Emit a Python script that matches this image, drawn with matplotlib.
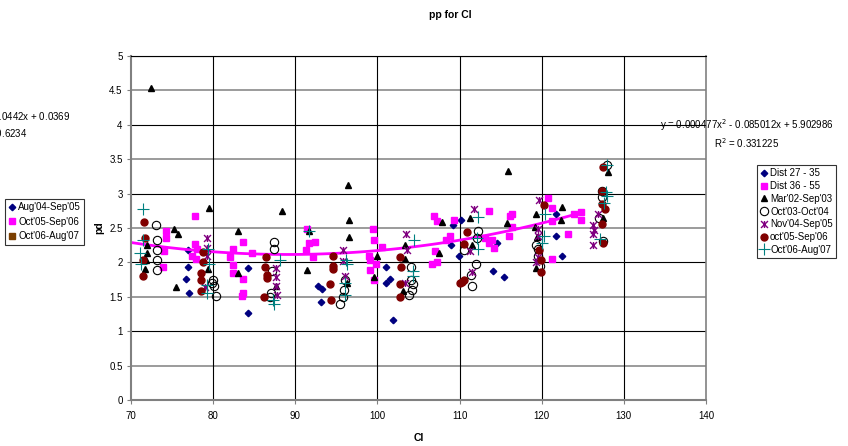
import numpy as np
import matplotlib
matplotlib.use('Agg')
import matplotlib.pyplot as plt
from matplotlib.path import Path
from matplotlib.lines import Line2D
from matplotlib.ticker import FuncFormatter

plt.rcParams['font.family'] = ['Liberation Sans', 'DejaVu Sans']

# data (Cl, pd)
dist27_x = [76.9, 76.7, 77.1, 77.0, 84.3, 84.3, 92.8, 93.3, 93.1, 101.0, 101.5, 101.0, 101.9,
            110.2, 109.2, 109.0, 109.9, 114.6, 114.1, 115.4, 121.7, 121.7, 122.5]
dist27_y = [1.94, 1.76, 1.55, 2.18, 1.92, 1.26, 1.65, 1.62, 1.43, 1.94, 1.76, 1.70, 1.17,
            2.62, 2.54, 2.26, 2.09, 2.28, 1.88, 1.79, 2.39, 2.70, 2.09]

dist36_x = [77.8, 74.3, 74.3, 77.8, 78.0, 74.0, 77.4, 77.9, 73.9, 82.0, 82.4, 83.6, 82.4, 82.4,
            83.6, 83.6, 83.5, 84.7, 91.4, 91.7, 92.4, 91.3, 92.1, 99.5, 99.6, 100.5, 99.0, 99.1,
            99.8, 99.1, 99.6, 106.9, 107.2, 109.3, 108.8, 108.4, 107.0, 106.6, 107.3, 113.6,
            116.4, 116.2, 116.4, 113.1, 114.0, 113.6, 114.2, 116.0, 120.8, 121.2, 121.3, 121.3,
            123.2, 123.9, 124.8, 124.8]
dist36_y = [2.67, 2.45, 2.36, 2.27, 2.20, 2.16, 2.10, 2.05, 1.94, 2.08, 2.20, 2.29, 1.96, 1.85,
            1.76, 1.55, 1.51, 2.13, 2.49, 2.28, 2.30, 2.18, 2.08, 2.49, 2.32, 2.23, 2.10, 2.03,
            1.98, 1.89, 1.74, 2.67, 2.60, 2.61, 2.38, 2.33, 2.17, 1.97, 2.00, 2.74,
            2.71, 2.67, 2.52, 2.36, 2.33, 2.28, 2.21, 2.38, 2.94, 2.79, 2.60, 2.05,
            2.41, 2.70, 2.73, 2.62]

mar02_x = [72.4, 71.9, 71.9, 71.8, 71.7, 75.2, 75.7, 75.5, 79.5, 79.4, 83.0, 83.0, 88.4, 87.6,
           91.7, 91.4, 96.4, 96.6, 96.5, 96.3, 100.0, 99.6, 103.4, 103.3, 103.1, 107.9, 111.3,
           115.9, 115.8, 107.5, 111.5, 119.3, 122.5, 122.4, 119.2, 119.3, 119.4, 128.1, 127.5]
mar02_y = [4.54, 2.25, 2.13, 2.03, 1.91, 2.48, 2.41, 1.64, 2.79, 1.91, 2.45, 1.84, 2.75, 1.65,
           2.45, 1.89, 3.12, 2.62, 2.37, 1.70, 2.09, 1.79, 2.26, 2.05, 1.59, 2.58, 2.65,
           3.33, 2.57, 2.13, 2.25, 2.70, 2.80, 2.62, 2.51, 1.92, 2.37, 3.32, 2.65]

oct03_x = [73.0, 73.2, 73.2, 73.2, 73.2, 80.0, 80.1, 80.4, 79.9, 87.4, 87.4, 87.2, 87.0, 86.9,
           96.0, 95.9, 95.8, 95.5, 104.1, 104.1, 104.3, 104.2, 103.9, 112.2, 112.1, 110.6,
           112.0, 111.4, 111.5, 119.3, 119.5, 119.6, 119.8, 128.0, 127.3, 127.3, 127.0, 127.4]
oct03_y = [2.55, 2.32, 2.18, 2.03, 1.89, 1.74, 1.65, 1.51, 1.70, 2.30, 2.20, 1.88, 1.55, 1.50,
           1.74, 1.60, 1.50, 1.39, 1.93, 1.74, 1.68, 1.60, 1.53, 2.46, 2.36, 2.18,
           1.97, 1.81, 1.65, 2.25, 2.19, 2.10, 1.95, 3.41, 3.04, 2.95, 2.65, 2.31]

nov04_x = [79.2, 79.2, 79.2, 79.0, 103.5, 103.6, 87.7, 87.7, 87.7, 87.8, 95.8, 95.8, 96.0, 103.3,
           111.7, 111.3, 111.5, 119.7, 119.6, 119.6, 119.3, 119.5, 126.9, 126.3, 126.4, 126.3, 126.3]
nov04_y = [2.36, 2.21, 2.10, 1.64, 2.41, 2.18, 1.92, 1.79, 1.65, 1.52, 2.18, 2.02, 1.80, 1.70,
           2.78, 2.17, 1.86, 2.91, 2.48, 2.39, 2.00, 2.08, 2.70, 2.54, 2.47, 2.42, 2.26]

oct05_x = [71.6, 71.7, 71.4, 71.4, 78.8, 78.5, 78.5, 78.8, 78.5, 86.4, 86.3, 86.6, 86.6, 86.2,
           94.6, 94.6, 94.6, 94.2, 94.3, 102.8, 102.9, 102.8, 102.8, 110.9, 110.6, 110.6, 110.3,
           110.1, 120.3, 119.7, 119.9, 119.9, 127.5, 127.3, 127.3, 127.7, 127.3, 127.5]
oct05_y = [2.59, 2.35, 2.03, 1.80, 2.00, 1.85, 1.75, 2.15, 1.59, 2.08, 1.93, 1.81, 1.77, 1.50,
           2.10, 1.95, 1.90, 1.68, 1.46, 2.08, 1.94, 1.68, 1.49, 2.44, 2.27, 1.75, 1.72,
           1.70, 2.83, 2.18, 2.03, 1.86, 3.38, 3.04, 2.85, 2.78, 2.56, 2.28]

oct06_x = [71.4, 71.5, 71.1, 71.2, 79.2, 79.2, 79.5, 79.4, 88.1, 87.3, 87.4, 91.7, 96.2, 96.3,
           96.0, 96.0, 104.5, 104.3, 104.3, 112.3, 112.1, 112.2, 120.4, 120.3, 120.0, 128.0,
           127.8, 128.0, 127.6, 127.1]
oct06_y = [2.78, 2.32, 2.13, 1.97, 1.67, 1.55, 1.98, 2.20, 2.03, 1.45, 1.40, 2.46, 2.03, 1.97,
           1.70, 1.53, 2.32, 1.88, 1.80, 2.66, 2.36, 2.20, 2.71, 2.39, 2.28, 3.41,
           3.02, 2.96, 2.87, 2.34]

# trendline coefficients shown on chart
poly = [0.000477, -0.085012, 5.902986]
trend_range = [70, 125]

fig = plt.figure(figsize=(8.48, 4.46), dpi=100)
ax = fig.add_axes([131 / 848, 1 - 400 / 446, 575 / 848, 344 / 446])

# grid like the excel chart
for v in np.arange(0.5, 5.01, 0.5):
    if v % 1 == 0:
        ax.axhline(v, color='black', lw=0.8, zorder=0)
    else:
        ax.axhline(v, color='#808080', lw=1.1, zorder=0)
for v in range(80, 140, 10):
    ax.axvline(v, color='black', lw=0.8, zorder=0)

star = Path([(-1, -1), (1, 1), (-1, 1), (1, -1), (0, -1), (0, 1)],
            [Path.MOVETO, Path.LINETO, Path.MOVETO, Path.LINETO, Path.MOVETO, Path.LINETO])

ax.plot(dist27_x, dist27_y, ls='none', marker='D', ms=3.3, color='#000080', label='Dist 27 - 35', zorder=2)
ax.plot(dist36_x, dist36_y, ls='none', marker='s', ms=5, color='#FF00FF', label='Dist 36 - 55', zorder=2)
xt = np.linspace(trend_range[0], trend_range[1], 100)
ax.plot(xt, np.polyval(poly, xt), color='#FF00FF', lw=2, zorder=2.5)
ax.plot(mar02_x, mar02_y, ls='none', marker='^', ms=5, color='black', label="Mar'02-Sep'03", zorder=3)
ax.plot(oct03_x, oct03_y, ls='none', marker='o', ms=6, mfc='none', mec='black', mew=0.8,
        label="Oct'03-Oct'04", zorder=3)
ax.plot(nov04_x, nov04_y, ls='none', marker=star, ms=5, mfc='none', mec='#800080', mew=1,
        label="Nov'04-Sep'05", zorder=3)
ax.plot(oct05_x, oct05_y, ls='none', marker='o', ms=5, color='#800000', label="oct'05-Sep'06", zorder=3)
ax.plot(oct06_x, oct06_y, ls='none', marker='+', ms=9, mew=0.8, color='#008080',
        label="Oct'06-Aug'07", zorder=3)

ax.set_xlim(70, 140)
ax.set_ylim(0, 5)
ax.set_xticks(range(70, 141, 10))
ax.set_yticks(np.arange(0, 5.01, 0.5))
ax.yaxis.set_major_formatter(FuncFormatter(lambda v, p: '%g' % v))
ax.tick_params(direction='out', length=3, color='#808080', labelsize=7, pad=3)
ax.tick_params(axis='x', pad=5)
for s in ['left', 'bottom']:
    ax.spines[s].set_color('#808080')
    ax.spines[s].set_linewidth(1.5)
ax.spines['right'].set_color('#808080')
ax.spines['right'].set_linewidth(1.2)
ax.spines['top'].set_color('black')
ax.spines['top'].set_linewidth(0.8)

ax.set_xlabel('Cl', fontsize=7.5, fontweight='bold')
ax.xaxis.set_label_coords(0.5, -(433 - 400) / 344)
ax.set_ylabel('pd', fontsize=7.5, fontweight='bold', va='center')
ax.yaxis.set_label_coords((99 - 131) / 575, 0.5)

fig.text(450 / 848, 1 - 15 / 446, 'pp for Cl', fontsize=7.5, fontweight='bold', ha='center', va='center')

# trendline labels
fig.text(747 / 848, 1 - 125 / 446, 'y = 0.000477x$^2$ - 0.085012x + 5.902986', fontsize=7,
         ha='center', va='center')
fig.text(747 / 848, 1 - 143 / 446, 'R$^2$ = 0.331225', fontsize=7, ha='center', va='center')
fig.text(0 / 848, 1 - 117 / 446, 'y = 0.0002x$^2$ - 0.0442x + 0.0369', fontsize=7,
         ha='center', va='center')
fig.text(0 / 848, 1 - 133 / 446, 'R$^2$ = 0.6234', fontsize=7, ha='center', va='center')

leg = fig.legend(handles=ax.get_legend_handles_labels()[0], loc='upper left',
                 bbox_to_anchor=(757 / 848, 1 - 165 / 446), fontsize=7, frameon=True,
                 fancybox=False, edgecolor='black', handlelength=0.8, handletextpad=0.2,
                 labelspacing=0.28, borderpad=0.35, borderaxespad=0)
leg.get_frame().set_linewidth(0.8)

left_handles = [
    Line2D([], [], ls='none', marker='D', ms=3.3, color='#000080'),
    Line2D([], [], ls='none', marker='s', ms=5, color='#FF00FF'),
    Line2D([], [], ls='none', marker='s', ms=5, color='#7B3F00'),
]
leg2 = fig.legend(left_handles, ["Aug'04-Sep'05", "Oct'05-Sep'06", "Oct'06-Aug'07"], loc='upper left',
                  bbox_to_anchor=(5 / 848, 1 - 199 / 446), fontsize=7, frameon=True,
                  fancybox=False, edgecolor='black', handlelength=0.8, handletextpad=0.2,
                  labelspacing=0.45, borderpad=0.35, borderaxespad=0)
leg2.get_frame().set_linewidth(0.8)

fig.savefig('out.png', dpi=100)
